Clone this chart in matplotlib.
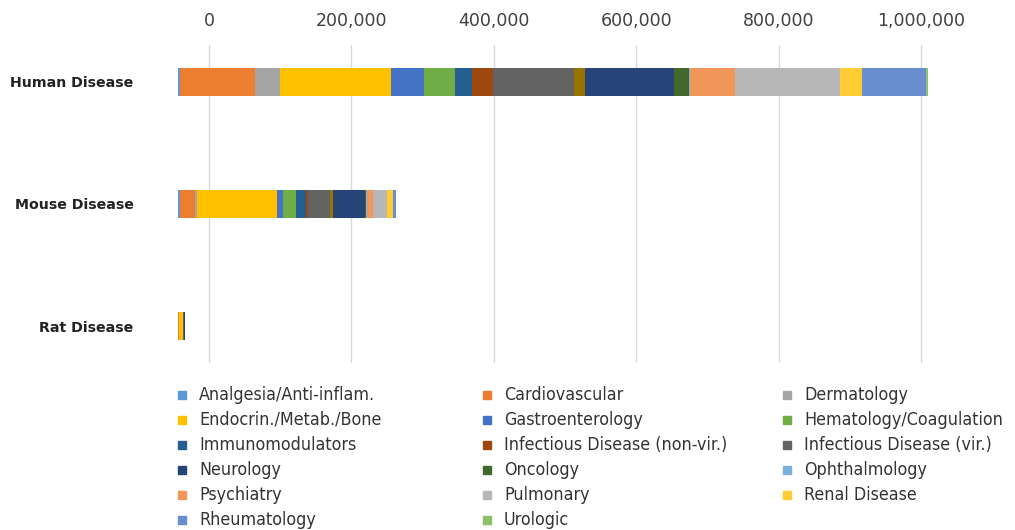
import numpy as np
import matplotlib.pyplot as plt
from matplotlib.patches import Rectangle

models = ['Human Disease', 'Mouse Disease', 'Rat Disease']

areas = ['Analgesia/Anti-inflam.', 'Cardiovascular', 'Dermatology',
         'Endocrin./Metab./Bone', 'Gastroenterology', 'Hematology/Coagulation',
         'Immunomodulators', 'Infectious Disease (non-vir.)', 'Infectious Disease (vir.)',
         'Other', 'Neurology', 'Oncology', 'Ophthalmology', 'Psychiatry',
         'Pulmonary', 'Renal Disease', 'Rheumatology', 'Urologic']

# values per therapeutic area, in order: Human, Mouse, Rat
analgesia = [3400, 2300, 300]
cardio = [104400, 21100, 1200]
derma = [35600, 3300, 200]
endocrin = [155600, 112400, 5600]
gastro = [46800, 8400, 100]
hemato = [43100, 18700, 100]
immuno = [24400, 13100, 100]
infect_nonvir = [29500, 2800, 100]
infect_vir = [113400, 30900, 200]
other = [15500, 4700, 1200]
neuro = [125100, 45400, 500]
onco = [21500, 1400, 100]
ophthal = [1400, 700, 0]
psych = [63200, 8400, 100]
pulmo = [147100, 20600, 100]
renal = [30900, 8400, 100]
rheuma = [89500, 3300, 0]
uro = [3200, 500, 0]

series = [analgesia, cardio, derma, endocrin, gastro, hemato, immuno, infect_nonvir,
          infect_vir, other, neuro, onco, ophthal, psych, pulmo, renal, rheuma, uro]

colors = ['#5B9BD5', '#ED7D31', '#A5A5A5', '#FFC000', '#4472C4', '#70AD47',
          '#255E91', '#9E480E', '#636363', '#997300', '#264478', '#43682B',
          '#7CAFDD', '#F1975A', '#B7B7B7', '#FFCD33', '#698ED0', '#8CC168']

x_start = -43500  # bars begin at the left edge of the plot area

fig = plt.figure(figsize=(10.15, 5.3), dpi=100)
ax = fig.add_axes([178 / 1015, 1 - 363 / 530, (1000 - 178) / 1015, 318 / 530])

y = np.arange(len(models))
left = np.full(len(models), float(x_start))
for vals, c, name in zip(series, colors, areas):
    ax.barh(y, vals, left=left, height=0.23, color=c, label=name, zorder=3)
    left += np.array(vals)

ax.set_xlim(x_start, 1111000)
ax.set_ylim(2.3, -0.3)
ax.set_yticks(y)
ax.set_yticklabels(models, fontsize=10.2, fontweight='bold', color='#222222')
ax.set_xticks(np.arange(0, 1000001, 200000))
ax.xaxis.set_major_formatter(plt.FuncFormatter(lambda v, p: f'{int(v):,}'))
ax.xaxis.tick_top()
ax.tick_params(axis='x', length=0, pad=11, labelsize=12.5, labelcolor='#404040')
ax.tick_params(axis='y', length=0, pad=32)
ax.grid(axis='x', color='#D9D9D9', linewidth=1, zorder=0)
for s in ax.spines.values():
    s.set_visible(False)

# legend: 3 columns, filled row by row
shown = [(n, c) for n, c in zip(areas, colors) if n != 'Other']
col_x = [178, 483, 783]
for i, (name, c) in enumerate(shown):
    row, col = divmod(i, 3)
    ypix = 395 + row * 25
    fig.patches.append(Rectangle((col_x[col] / 1015, 1 - (ypix + 4) / 530), 8 / 1015, 8 / 530,
                                 transform=fig.transFigure, color=c, figure=fig))
    fig.text((col_x[col] + 21) / 1015, 1 - ypix / 530, name, fontsize=12.8,
             family='DejaVu Sans', stretch='condensed', color='#333333', va='center')

fig.savefig('out.png', dpi=100)
